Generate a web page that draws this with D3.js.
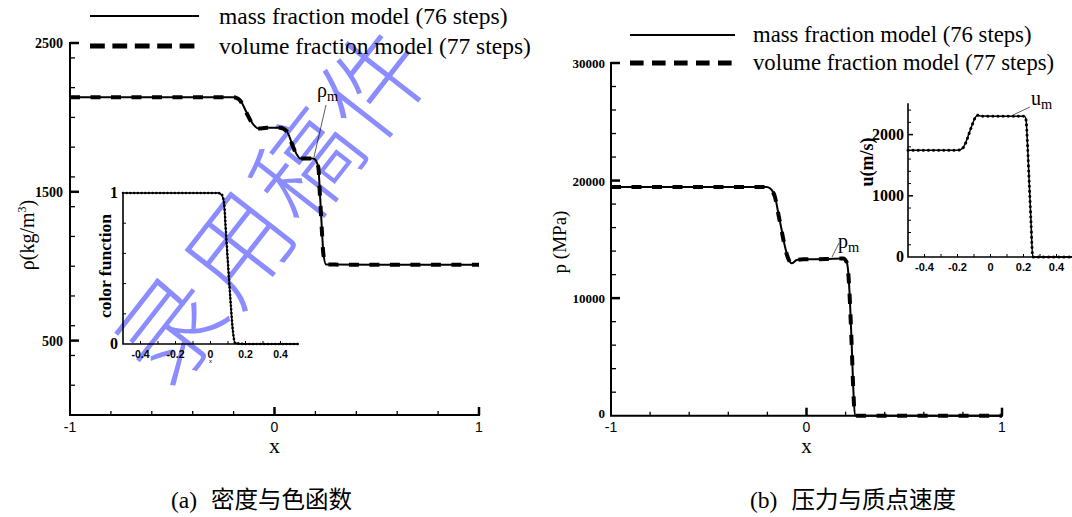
<!DOCTYPE html>
<html>
<head>
<meta charset="utf-8">
<script src="https://cdn.jsdelivr.net/npm/d3@7"></script>
<style>
  html, body { margin: 0; padding: 0; background: #fff; }
  svg { display: block; }
</style>
</head>
<body>
<svg id="fig" width="1072" height="517"></svg>
<script>
// ---------- data ----------
// (a) density along the tube
const rhoX     = [-1, -0.5, -0.2, -0.187, -0.169, -0.136, -0.104, -0.079, -0.038, 0.027, 0.06, 0.084, 0.109, 0.125, 0.19, 0.214, 0.222, 0.231, 0.239, 0.252, 0.5, 1];
const rhoMass  = [2135, 2135, 2135, 2132, 2118, 2032, 1953, 1926, 1931, 1931, 1908, 1830, 1751, 1724, 1724, 1672, 1493, 1268, 1089, 1012, 1010, 1010];
const rhoVol   = [2135, 2135, 2135, 2131, 2115, 2028, 1950, 1925, 1930, 1931, 1906, 1826, 1748, 1723, 1724, 1668, 1480, 1255, 1080, 1011, 1010, 1010];
// (a) inset: color function
const colX     = [-0.5, 0, 0.044, 0.064, 0.077, 0.089, 0.102, 0.115, 0.127, 0.14, 0.2, 0.5];
const colMass  = [1, 1, 1, 0.987, 0.93, 0.71, 0.49, 0.27, 0.093, 0.005, 0, 0];
const colVol   = [1, 1, 1, 0.99, 0.94, 0.73, 0.5, 0.28, 0.1, 0.008, 0, 0];
// (b) pressure
const pX       = [-1, -0.5, -0.204, -0.187, -0.161, -0.144, -0.127, -0.110, -0.093, -0.076, -0.050, -0.016, 0.1, 0.188, 0.205, 0.214, 0.222, 0.231, 0.239, 0.248, 0.5, 1];
const pMass    = [19450, 19450, 19450, 19340, 18620, 17210, 15790, 14370, 13380, 12960, 13240, 13300, 13320, 13380, 13100, 12130, 9840, 6160, 2470, 0, 0, 0];
const pVol     = [19450, 19450, 19450, 19330, 18580, 17150, 15720, 14310, 13350, 12970, 13250, 13300, 13320, 13370, 13060, 12050, 9700, 6000, 2350, 0, 0, 0];
// (b) inset: particle velocity
const uX       = [-0.5, -0.2, -0.188, -0.17, -0.15, -0.13, -0.11, -0.09, -0.075, -0.06, 0.1, 0.206, 0.215, 0.225, 0.235, 0.245, 0.256, 0.35, 0.5];
const uMass    = [1745, 1745, 1748, 1775, 1870, 2020, 2170, 2290, 2318, 2302, 2300, 2298, 2250, 1800, 1200, 600, 0, 0, 0];
const uVol     = [1745, 1745, 1748, 1772, 1865, 2015, 2165, 2288, 2316, 2302, 2300, 2298, 2245, 1790, 1190, 590, 0, 0, 0];

// tick values and labels
const mainXTicks   = [-1, 0, 1];
const rhoTicks     = [500, 1500, 2500];
const pTicks       = [0, 10000, 20000, 30000];
const colTicks     = [0, 1];
const uTicks       = [0, 1000, 2000];
const insetXTicks  = [-0.4, -0.2, 0, 0.2, 0.4];

const legendNames  = ["mass fraction model (76 steps)", "volume fraction model (77 steps)"];
const captions     = ["(a)", "密度与色函数", "(b)", "压力与质点速度"];
const stampChars   = ["录", "用", "稿", "件"];

// ---------- helpers ----------
const SERIF = '"Liberation Serif","Times New Roman",serif';
const SANS  = '"Liberation Sans",Arial,sans-serif';
const CJK   = '"Noto Sans CJK SC","Noto Sans CJK JP",sans-serif';

const svg = d3.select("#fig");
const zip = (xs, ys) => xs.map((x, i) => [x, ys[i]]);
const range = (a, b, s) => d3.range(Math.round(a / s), Math.round(b / s) + 1).map(k => +(k * s).toFixed(6));

function frame(g, x, y, o) {
  const [x0, x1] = x.range(), [y0, y1] = y.range();
  g.selectAll(null).data(o.xMinor).join("line")
    .attr("x1", d => x(d)).attr("x2", d => x(d))
    .attr("y1", y0).attr("y2", y0 - o.xMinorLen)
    .attr("stroke", "#000").attr("stroke-width", o.tickW);
  g.selectAll(null).data(o.xMajor).join("line")
    .attr("x1", d => x(d)).attr("x2", d => x(d))
    .attr("y1", y0).attr("y2", y0 - o.xMajorLen)
    .attr("stroke", "#000").attr("stroke-width", o.majorW);
  g.selectAll(null).data(o.yMinor).join("line")
    .attr("x1", x0).attr("x2", x0 + o.yMinorLen)
    .attr("y1", d => y(d)).attr("y2", d => y(d))
    .attr("stroke", "#000").attr("stroke-width", o.tickW);
  g.selectAll(null).data(o.yMajor).join("line")
    .attr("x1", x0).attr("x2", x0 + o.yMajorLen)
    .attr("y1", d => y(d)).attr("y2", d => y(d))
    .attr("stroke", "#000").attr("stroke-width", o.majorW);
  g.append("path")
    .attr("d", `M${x0},${y1}V${y0}H${x1}`)
    .attr("fill", "none").attr("stroke", "#000").attr("stroke-width", o.axisW)
    .attr("stroke-linecap", "square");
}

function series(g, x, y, xs, ys, style) {
  const line = d3.line().x(d => x(d[0])).y(d => y(d[1])).curve(d3.curveMonotoneX);
  g.append("path").datum(zip(xs, ys))
    .attr("d", line).attr("fill", "none").attr("stroke", "#000")
    .attr("stroke-width", style.w)
    .attr("stroke-dasharray", style.dash || null)
    .attr("stroke-linecap", style.cap || "butt")
    .attr("stroke-linejoin", "round");
}

function legend(g, lx0, lx1, tx, ys, fs, dash) {
  g.append("line").attr("x1", lx0).attr("x2", lx1).attr("y1", ys[0]).attr("y2", ys[0])
    .attr("stroke", "#000").attr("stroke-width", 2);
  g.append("line").attr("x1", lx0).attr("x2", lx1).attr("y1", ys[1]).attr("y2", ys[1])
    .attr("stroke", "#000").attr("stroke-width", 5).attr("stroke-dasharray", dash);
  legendNames.forEach((t, i) => {
    g.append("text").attr("x", tx).attr("y", ys[i] + fs * 0.33)
      .attr("font-family", SERIF).attr("font-size", fs).text(t);
  });
}

function subLabel(g, x, y, main, sub, fs) {
  const t = g.append("text").attr("x", x).attr("y", y)
    .attr("font-family", SERIF).attr("font-size", fs);
  t.append("tspan").text(main);
  t.append("tspan").attr("font-size", fs * 0.72).attr("dy", fs * 0.18).text(sub);
}

// ---------- (a) density ----------
{
  const g = svg.append("g");
  const x = d3.scaleLinear().domain([-1, 1]).range([70, 479]);
  const y = d3.scaleLinear().domain([0, 2500]).range([415, 43]);

  frame(g, x, y, {
    xMinor: range(-0.8, 0.8, 0.2).filter(v => v !== 0), xMajor: [0, 1],
    yMinor: range(100, 2300, 200), yMajor: rhoTicks,
    xMinorLen: 4, xMajorLen: 8, yMinorLen: 5, yMajorLen: 9,
    tickW: 1.3, majorW: 2.5, axisW: 2
  });

  g.selectAll(null).data(mainXTicks).join("text")
    .attr("x", d => x(d)).attr("y", 432).attr("text-anchor", "middle")
    .attr("font-family", SANS).attr("font-size", 14).text(d => d);
  g.selectAll(null).data(rhoTicks).join("text")
    .attr("x", 63).attr("y", d => y(d) + 5).attr("text-anchor", "end")
    .attr("font-family", SERIF).attr("font-weight", "bold").attr("font-size", 14).text(d => d);

  g.append("text").attr("x", x(0)).attr("y", 453).attr("text-anchor", "middle")
    .attr("font-family", SERIF).attr("font-size", 22).text("x");

  const yl = g.append("text").attr("transform", "translate(34,235) rotate(-90)")
    .attr("text-anchor", "middle").attr("font-family", SERIF).attr("font-size", 20);
  yl.append("tspan").text("ρ(kg/m");
  yl.append("tspan").attr("font-size", 12).attr("dy", -8).text("3");
  yl.append("tspan").attr("dy", 8).text(")");

  series(g, x, y, rhoX, rhoMass, { w: 2 });
  series(g, x, y, rhoX, rhoVol, { w: 4, dash: "10,10.5" });

  // ρm annotation
  g.append("line").attr("x1", 326).attr("y1", 105).attr("x2", 314).attr("y2", 157)
    .attr("stroke", "#333").attr("stroke-width", 0.8);
  subLabel(g, 317, 97, "ρ", "m", 20);

  // inset: color function
  const ix = d3.scaleLinear().domain([-0.5, 0.5]).range([123, 298]);
  const iy = d3.scaleLinear().domain([0, 1]).range([344, 193]);
  frame(g, ix, iy, {
    xMinor: range(-0.4, 0.4, 0.1), xMajor: [],
    yMinor: range(0.2, 0.8, 0.2), yMajor: [],
    xMinorLen: 3, xMajorLen: 0, yMinorLen: 3, yMajorLen: 0,
    tickW: 1, majorW: 1, axisW: 1.6
  });
  g.selectAll(null).data(insetXTicks).join("text")
    .attr("x", d => ix(d)).attr("y", 358).attr("text-anchor", "middle")
    .attr("font-family", SANS).attr("font-weight", "bold").attr("font-size", 10.5).text(d => d);
  g.append("text").attr("x", ix(0)).attr("y", 363).attr("text-anchor", "middle")
    .attr("font-family", SANS).attr("font-size", 6).text("x");
  g.selectAll(null).data(colTicks).join("text")
    .attr("x", 118).attr("y", d => iy(d) + 5).attr("text-anchor", "end")
    .attr("font-family", SERIF).attr("font-weight", "bold").attr("font-size", 16).text(d => d);
  g.append("text").attr("transform", "translate(111,266) rotate(-90)")
    .attr("text-anchor", "middle").attr("font-family", SERIF).attr("font-weight", "bold")
    .attr("font-size", 17.5).text("color function");
  series(g, ix, iy, colX, colMass, { w: 1.5 });
  series(g, ix, iy, colX, colVol, { w: 2.6, dash: "0.1,3.6", cap: "round" });

  legend(g, 90, 199, 219, [16, 46], 23.5, "14.8,7.6");
}

// ---------- (b) pressure ----------
{
  const g = svg.append("g");
  const x = d3.scaleLinear().domain([-1, 1]).range([611, 1002]);
  const y = d3.scaleLinear().domain([0, 30000]).range([415.7, 63]);

  frame(g, x, y, {
    xMinor: range(-0.8, 0.8, 0.2).filter(v => v !== 0), xMajor: [0, 1],
    yMinor: range(2000, 28000, 2000).filter(v => v % 10000 !== 0), yMajor: pTicks.slice(1),
    xMinorLen: 4, xMajorLen: 8, yMinorLen: 5, yMajorLen: 9,
    tickW: 1.3, majorW: 2.5, axisW: 2
  });

  g.selectAll(null).data(mainXTicks).join("text")
    .attr("x", d => x(d)).attr("y", 432).attr("text-anchor", "middle")
    .attr("font-family", SANS).attr("font-size", 14).text(d => d);
  g.selectAll(null).data(pTicks).join("text")
    .attr("x", 605).attr("y", d => y(d) + (d === 0 ? 2 : 5)).attr("text-anchor", "end")
    .attr("font-family", SERIF).attr("font-weight", "bold").attr("font-size", 13).text(d => d);

  g.append("text").attr("x", x(0)).attr("y", 453).attr("text-anchor", "middle")
    .attr("font-family", SERIF).attr("font-size", 21).text("x");
  g.append("text").attr("transform", "translate(566,242) rotate(-90)")
    .attr("text-anchor", "middle").attr("font-family", SERIF).attr("font-size", 19).text("p (MPa)");

  series(g, x, y, pX, pMass, { w: 2 });
  series(g, x, y, pX, pVol, { w: 4, dash: "10,10.5" });

  g.append("line").attr("x1", 839).attr("y1", 243).attr("x2", 832).attr("y2", 257)
    .attr("stroke", "#333").attr("stroke-width", 0.8);
  subLabel(g, 838, 248, "p", "m", 20);

  // inset: particle velocity
  const ix = d3.scaleLinear().domain([-0.5, 0.5]).range([908, 1073]);
  const iy = d3.scaleLinear().domain([0, 2500]).range([257, 104]);
  frame(g, ix, iy, {
    xMinor: range(-0.4, 0.4, 0.1), xMajor: [],
    yMinor: range(200, 2400, 200).filter(v => v % 1000 !== 0), yMajor: [1000, 2000],
    xMinorLen: 3, xMajorLen: 0, yMinorLen: 3, yMajorLen: 5,
    tickW: 1, majorW: 1.5, axisW: 1.6
  });
  g.selectAll(null).data(insetXTicks).join("text")
    .attr("x", d => ix(d)).attr("y", 271).attr("text-anchor", "middle")
    .attr("font-family", SANS).attr("font-weight", "bold").attr("font-size", 11).text(d => d);
  g.selectAll(null).data(uTicks).join("text")
    .attr("x", 904).attr("y", d => iy(d) + 5).attr("text-anchor", "end")
    .attr("font-family", SERIF).attr("font-weight", "bold").attr("font-size", 16).text(d => d);
  g.append("text").attr("transform", "translate(873,162) rotate(-90)")
    .attr("text-anchor", "middle").attr("font-family", SERIF).attr("font-weight", "bold")
    .attr("font-size", 18).text("u(m/s)");
  series(g, ix, iy, uX, uMass, { w: 1.5 });
  series(g, ix, iy, uX, uVol, { w: 3, dash: "0.1,5", cap: "round" });

  g.append("line").attr("x1", 1030).attr("y1", 107).attr("x2", 1013).attr("y2", 115)
    .attr("stroke", "#333").attr("stroke-width", 0.8);
  subLabel(g, 1031, 105, "u", "m", 20);

  legend(g, 630, 735, 753, [35, 63], 22.7, "13.6,8.4");
}

// ---------- captions ----------
[[171, 0], [750, 2]].forEach(([cx, k]) => {
  const t = svg.append("text").attr("x", cx).attr("y", 508).attr("font-size", 23.5);
  t.append("tspan").attr("font-family", SERIF).text(captions[k]);
  t.append("tspan").attr("font-family", CJK).attr("dx", 14).text(captions[k + 1]);
});

// ---------- review stamp ----------
const stamp = svg.append("g").style("mix-blend-mode", "multiply");
stampChars.forEach((c, i) => {
  stamp.append("text")
    .attr("transform", `translate(${165 + 68 * i},${325 - 82 * i}) rotate(-52)`)
    .attr("text-anchor", "middle").attr("dominant-baseline", "central")
    .attr("font-family", CJK).attr("font-weight", 300).attr("font-size", 104)
    .attr("fill", "#8a8cff").text(c);
});
</script>
</body>
</html>
